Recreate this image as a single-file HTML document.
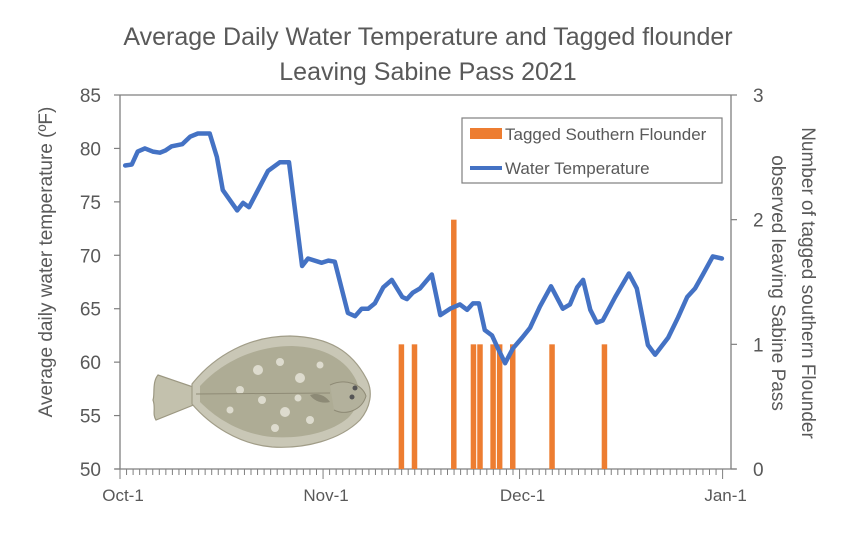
<!DOCTYPE html>
<html><head><meta charset="utf-8"><style>
html,body{margin:0;padding:0;background:#fff;}
svg{display:block;font-family:"Liberation Sans",sans-serif;}
</style></head><body>
<svg id="chart" width="856" height="553" viewBox="0 0 856 553" xmlns="http://www.w3.org/2000/svg">
<rect x="0" y="0" width="856" height="553" fill="#fff"/>
<text x="428" y="45" text-anchor="middle" font-size="25" fill="#595959">Average Daily Water Temperature and Tagged flounder</text>
<text x="428" y="80" text-anchor="middle" font-size="25" fill="#595959">Leaving Sabine Pass 2021</text>
<text transform="translate(52,262) rotate(-90)" text-anchor="middle" font-size="19" fill="#595959">Average daily water temperature (ºF)</text>
<text transform="translate(802,283) rotate(90)" text-anchor="middle" font-size="19" fill="#595959">Number of tagged southern Flounder</text>
<text transform="translate(772,283) rotate(90)" text-anchor="middle" font-size="19" fill="#595959">observed leaving Sabine Pass</text>
<g id="fish">
  <path d="M196,388 L158,375 C152,382 155,395 153,400 C156,408 152,414 156,420 L196,404 Z" fill="#c3c1ad" stroke="#9c9882" stroke-width="1.2"/>
  <path d="M192,384 C215,355 250,336 290,336 C330,337 352,352 366,378 C374,392 370,408 360,420 C340,440 305,449 272,447 C238,444 210,425 192,404 Z" fill="#c9c7b6" stroke="#a19d88" stroke-width="1.2"/>
  <path d="M200,386 C222,362 255,346 292,346 C325,347 346,360 356,380 C362,394 358,408 348,418 C330,433 300,439 272,437 C242,434 218,420 200,402 Z" fill="#aeac95"/>
  <g fill="#e6e4d8" opacity="0.85">
    <circle cx="258" cy="370" r="5"/><circle cx="280" cy="362" r="4"/><circle cx="300" cy="378" r="5"/>
    <circle cx="262" cy="400" r="4"/><circle cx="285" cy="412" r="5"/><circle cx="240" cy="390" r="4"/>
    <circle cx="310" cy="420" r="4"/><circle cx="320" cy="365" r="3.5"/><circle cx="230" cy="410" r="3.5"/>
    <circle cx="275" cy="428" r="4"/><circle cx="298" cy="398" r="3.5"/>
  </g>
  <line x1="196" y1="394" x2="330" y2="393" stroke="#8f8b76" stroke-width="1"/>
  <path d="M310,395 C318,392 326,396 330,402 C322,404 314,401 310,395 Z" fill="#8d8a76"/>
  <path d="M330,385 C345,378 362,384 366,396 C362,410 346,416 334,410" fill="#b3b19c" stroke="#8f8b76" stroke-width="1"/>
  <circle cx="355" cy="388" r="2.5" fill="#555"/>
  <circle cx="352" cy="397" r="2.5" fill="#555"/>
</g>
<g id="axes"></g>
<g id="bars"></g>
<g id="line"></g>
<g>
  <rect x="462" y="118" width="260" height="65" fill="#fff" stroke="#7f7f7f" stroke-width="1.2"/>
  <rect x="470" y="128" width="32" height="11" fill="#ed7d31"/>
  <text x="505" y="140" font-size="17" fill="#595959">Tagged Southern Flounder</text>
  <line x1="470" y1="168" x2="502" y2="168" stroke="#4472c4" stroke-width="4"/>
  <text x="505" y="174" font-size="17" fill="#595959">Water Temperature</text>
</g>
</svg>
<script>
const tempDays = [0.8,1.8,2.7,3.8,5.0,6.1,6.9,7.9,9.5,10.7,11.9,13.7,14.8,15.7,17.9,18.8,19.7,21.4,22.6,24.4,25.8,27.8,28.7,30.8,31.8,32.8,34.8,35.9,36.9,37.9,38.9,40.2,41.5,43.1,43.8,44.7,45.8,47.6,48.9,50.4,51.9,53.0,53.9,54.8,55.7,56.8,57.7,58.8,60.0,61.4,62.6,64.1,65.8,67.6,68.7,69.8,70.7,71.8,72.8,73.7,75.6,77.7,78.9,80.6,81.7,83.7,85.2,86.6,87.8,89.0,90.5,91.9];
const tempValues = [78.4,78.5,79.7,80.0,79.7,79.6,79.8,80.2,80.4,81.1,81.4,81.4,79.2,76.1,74.2,74.9,74.5,76.5,77.9,78.7,78.7,69.0,69.7,69.3,69.5,69.4,64.6,64.3,65.0,65.0,65.5,67.0,67.7,66.1,65.9,66.5,66.9,68.2,64.4,65.0,65.4,64.9,65.5,65.5,63.0,62.5,61.3,59.9,61.3,62.3,63.2,65.2,67.1,65.0,65.4,67.0,67.7,64.9,63.7,63.9,66.1,68.3,66.9,61.6,60.7,62.3,64.2,66.1,66.9,68.2,69.9,69.7];
const barDays = [43,45,51,54,55,57,58,60,66,74];
const barCounts = [1,1,2,1,1,1,1,1,1,1];
const leftTicks = [50,55,60,65,70,75,80,85];
const rightTicks = [0,1,2,3];
const monthLabels = ["Oct-1","Nov-1","Dec-1","Jan-1"];
const monthDays = [0,31,61,92];

const NS="http://www.w3.org/2000/svg";
const X0=120, X1=731, Y0=469, Y1=95, DAYPX=6.55;
const xDay=d=>X0+d*DAYPX;
const yTemp=t=>Y0-(t-50)/(85-50)*(Y0-Y1);
const yCount=c=>Y0-c/3*(Y0-Y1);
function mk(tag,attrs,parent){const e=document.createElementNS(NS,tag);for(const k in attrs)e.setAttribute(k,attrs[k]);parent.appendChild(e);return e;}

const axes=document.getElementById('axes');
let e;
e=mk('line',{x1:X0,y1:Y1,x2:X1,y2:Y1,stroke:'#7f7f7f','stroke-width':1.3},axes);


e=mk('line',{x1:X0,y1:Y1,x2:X0,y2:Y0,stroke:'#7f7f7f','stroke-width':1.3},axes);


e=mk('line',{x1:X1,y1:Y1,x2:X1,y2:Y0,stroke:'#7f7f7f','stroke-width':1.3},axes);


e=mk('line',{x1:X0-5,y1:Y0,x2:X1+5,y2:Y0,stroke:'#7f7f7f','stroke-width':1.3},axes);


leftTicks.forEach(t=>{
  const y=yTemp(t);
  mk('line',{x1:X0-6,y1:y,x2:X0,y2:y,stroke:'#7f7f7f','stroke-width':1.2},axes);
  e=mk('text',{x:X0-19,y:y+7,'text-anchor':'end','font-size':19,fill:'#595959'},axes);
  e.textContent=t;
  
  
});
rightTicks.forEach(t=>{
  const y=yCount(t);
  mk('line',{x1:X1,y1:y,x2:X1+6,y2:y,stroke:'#7f7f7f','stroke-width':1.2},axes);
  e=mk('text',{x:753,y:y+7,'font-size':19,fill:'#595959'},axes);
  e.textContent=t;
  
  
});
for(let d=0;d<=92;d++){
  const x=xDay(d);
  const major=monthDays.includes(d);
  mk('line',{x1:x,y1:Y0,x2:x,y2:Y0+(major?10:6),stroke:'#7f7f7f','stroke-width':1},axes);
}
monthLabels.forEach((m,i)=>{
  e=mk('text',{x:xDay(monthDays[i])+3,y:501,'text-anchor':'middle','font-size':17,fill:'#595959'},axes);
  e.textContent=m;
  
  
});

const bars=document.getElementById('bars');
barDays.forEach((d,i)=>{
  const x=xDay(d)-3, y=yCount(barCounts[i]);
  const r=mk('rect',{x:x,y:y,width:5.5,height:Y0-y,fill:'#ed7d31'},bars);
  
  
});

const lg=document.getElementById('line');
const pts=tempDays.map((d,i)=>xDay(d).toFixed(1)+','+yTemp(tempValues[i]).toFixed(1)).join(' ');
const pl=mk('polyline',{points:pts,fill:'none',stroke:'#4472c4','stroke-width':4.5,'stroke-linejoin':'round','stroke-linecap':'round'},lg);


</script>
</body></html>
